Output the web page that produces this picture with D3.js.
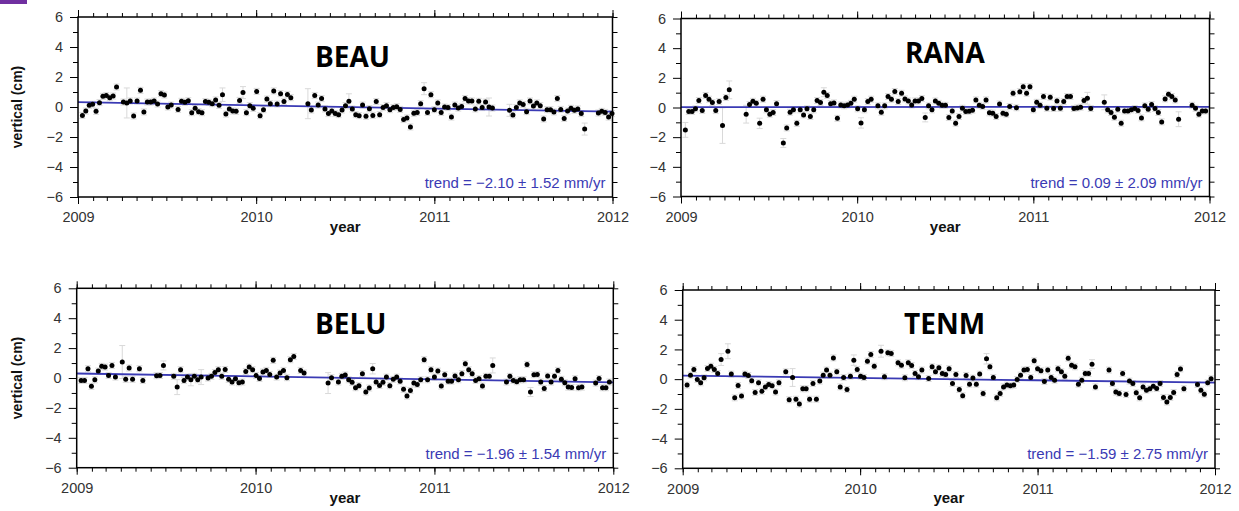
<!DOCTYPE html>
<html>
<head>
<meta charset="utf-8">
<script src="https://cdn.jsdelivr.net/npm/d3@7"></script>
<style>
  body { margin: 0; background: #fff; }
  svg { display: block; font-family: "Liberation Sans", Arial, sans-serif; }
</style>
</head>
<body>
<svg id="chart" width="1239" height="511"></svg>
<script>
// weekly GPS solutions, first week = 2009-01-10, null = no solution
const weekStart = new Date(2009, 0, 10);
const yearTicks = [2009, 2010, 2011, 2012];
const yTicks = [-6, -4, -2, 0, 2, 4, 6];

const stations = ['BEAU', 'RANA', 'BELU', 'TENM'];
const trendRates = [-2.10, 0.09, -1.96, -1.59];   // mm/yr
const trendErrors = [1.52, 2.09, 1.54, 2.75];     // mm/yr
const trendStart = [0.32, 0.02, 0.30, 0.24];      // cm at 2009.0

const beau = [
  -0.56, -0.27, 0.11, 0.18, -0.29, 0.29, 0.71, 0.76, 0.62, 0.73,
  1.33, null, 0.33, 0.27, 0.40, -0.60, 0.40, 1.11, -0.33, 0.33,
  0.33, 0.40, 0.20, 0.89, 0.80, 0.00, 0.13, null, -0.16, 0.38,
  0.31, 0.42, -0.38, -0.09, -0.31, -0.38, 0.36, 0.31, 0.22, 0.47,
  0.11, 0.82, -0.47, -0.13, -0.27, -0.29, 0.44, 0.96, -0.38, 0.09,
  -0.09, 1.04, -0.58, -0.18, 0.53, 0.22, 1.07, 0.20, 0.89, 0.36,
  0.84, 0.62, null, null, null, null, 0.22, -0.20, 0.76, 0.13,
  0.56, -0.13, -0.44, -0.27, -0.44, -0.51, -0.20, 0.09, 0.38, -0.13,
  -0.51, -0.58, 0.13, -0.62, -0.11, -0.56, 0.36, -0.51, -0.04, 0.09,
  -0.18, -0.04, 0.02, -0.16, -0.84, -0.73, -1.33, -0.42, -0.36, 0.22,
  1.22, -0.36, 0.82, -0.18, 0.27, -0.36, 0.00, -0.04, -0.67, 0.13,
  -0.07, 0.04, 0.56, 0.40, 0.40, -0.13, 0.38, -0.04, 0.33, 0.00,
  -0.07, null, null, null, null, -0.22, -0.53, -0.04, 0.27, 0.16,
  -0.31, 0.40, 0.07, 0.27, 0.09, -0.80, -0.18, -0.18, -0.33, 0.56,
  -0.16, -0.76, -0.27, -0.09, -0.22, -0.13, -0.44, -1.47, null, null,
  null, -0.40, -0.29, -0.36, -0.67, -0.44
];
const rana = [
  -1.51, -0.27, -0.27, -0.09, 0.47, -0.20, 0.81, 0.56, 0.33, -0.21,
  0.40, -1.22, 0.67, 1.19, null, null, null, null, -0.45, 0.20,
  0.42, 0.28, -1.07, 0.56, -0.16, -0.45, -0.34, 0.26, null, -2.39,
  -1.38, -0.32, -0.16, -1.07, -0.16, -0.50, -0.09, -0.61, -0.16, 0.47,
  0.33, 1.03, 0.81, 0.26, 0.31, -0.73, 0.17, 0.11, 0.17, 0.28,
  0.56, -0.09, -1.04, -0.16, 0.40, 0.56, null, 0.11, -0.32, 0.11,
  0.74, 0.56, 1.08, 0.40, 0.96, 0.58, 0.44, 0.17, 0.44, 0.44,
  0.60, -0.67, 0.11, -0.16, 0.44, 0.28, 0.15, 0.15, -0.68, -0.23,
  -1.06, -0.61, -0.05, -0.27, -0.25, -0.18, 0.51, 0.15, 0.06, 0.51,
  -0.36, -0.38, -0.61, 0.24, -0.38, -0.45, 0.06, 0.96, -0.02, 1.07,
  1.40, 0.96, 1.40, -0.16, 0.35, 0.15, 0.74, -0.05, 0.69, -0.07,
  0.44, -0.05, 0.40, 0.74, 0.74, -0.07, -0.03, 0.02, 0.47, 0.62,
  -0.07, null, null, null, 0.35, -0.16, -0.34, -0.66, -0.12, -1.06,
  -0.23, -0.23, -0.16, -0.07, -0.20, -0.70, 0.11, -0.12, 0.20, -0.07,
  -0.34, -0.97, 0.58, 0.89, 0.74, 0.51, -0.79, null, null, null,
  0.15, -0.05, -0.45, -0.23, -0.23, null
];
const belu = [
  -0.16, -0.16, 0.62, -0.56, -0.12, 0.46, 0.78, 0.73, 0.17, 0.84,
  0.06, null, 1.07, -0.09, 0.67, -0.09, null, 0.62, -0.16, null,
  null, null, 0.15, 0.17, 0.84, null, null, 0.11, -0.61, 0.55,
  -0.16, 0.06, -0.12, 0.11, -0.12, 0.06, null, 0.00, 0.11, 0.37,
  0.55, 0.11, 0.57, -0.09, -0.27, -0.05, -0.32, -0.27, 0.44, 0.73,
  0.55, 0.17, -0.03, 0.40, 0.51, 0.24, 1.18, 0.06, 0.33, 0.51,
  0.02, 1.22, 1.44, null, 0.51, 0.33, null, null, null, null,
  null, null, -0.34, 0.02, null, -0.27, 0.11, 0.20, -0.12, -0.29,
  -0.65, -0.52, 0.29, -0.94, -0.67, 0.62, -0.27, -0.50, -0.29, 0.06,
  -0.52, -0.09, 0.06, -0.21, -0.76, -1.21, -0.83, -0.34, -0.43, -0.12,
  1.22, -0.12, 0.55, 0.06, 0.46, -0.54, 0.22, -0.21, -0.21, 0.13,
  -0.12, 0.29, 0.95, 0.55, 0.29, -0.16, -0.05, -0.54, 0.11, 0.11,
  0.84, null, null, null, -0.27, 0.11, -0.16, -0.25, -0.12, -0.12,
  0.91, -0.94, 0.22, 0.24, -0.27, -0.70, 0.13, -0.27, 0.11, 0.51,
  -0.09, -0.32, -0.61, -0.63, -0.05, -0.65, -0.61, null, null, null,
  -0.34, -0.03, -0.65, -0.65, -0.27, null
];
const tenm = [
  -0.40, 0.27, 0.65, -0.02, -0.25, 0.09, 0.72, 0.87, 0.65, 0.38,
  1.32, null, 1.88, 0.34, -1.26, -0.43, -1.14, 0.34, 0.25, -0.11,
  -0.90, -0.25, -0.81, -0.52, -0.36, -0.45, -0.87, -0.25, null, 0.49,
  -1.39, 0.11, -1.35, -1.68, -0.65, -0.65, -1.35, -0.29, -1.35, -0.13,
  0.27, 0.61, 0.27, 1.43, 0.49, -0.52, 0.11, -0.70, 0.20, 1.28,
  0.65, 0.20, 0.11, 1.21, 1.66, 0.87, null, 1.88, 0.16, 1.77,
  1.73, null, 1.10, 0.94, 0.09, 1.10, 0.92, 0.38, 0.16, 0.61,
  null, 0.04, 0.83, 0.50, 0.76, 0.38, 0.31, 0.70, -0.29, 0.31,
  -0.70, -1.12, 0.25, -0.34, 0.07, -0.34, 0.34, -0.96, 1.37, 0.83,
  0.11, -1.26, -0.96, -0.52, -0.40, -0.45, -0.40, -0.02, 0.27, 0.61,
  0.65, 0.11, 1.23, 0.70, 0.56, -0.16, 0.61, 0.11, -0.07, 0.70,
  0.49, 0.20, 1.41, 0.94, 0.83, -0.34, -0.07, 0.38, 0.38, 1.01,
  -0.52, null, null, null, 0.61, -0.29, -0.87, -0.96, 0.38, -1.03,
  -0.13, -0.29, -0.92, -1.26, -0.52, -0.74, -0.65, -0.47, -0.63, -0.29,
  -1.23, -1.54, -1.23, -0.90, 0.31, 0.69, -0.65, null, null, null,
  -0.36, -0.74, -1.01, -0.25, 0.02, null
];

// larger error bars [week, sigma cm]; all other weeks use the default sigma
const defaultSigma = 0.2;
const beauErr = [[13, 1.0], [41, 0.45], [47, 0.4], [66, 1.0], [78, 0.5], [100, 0.4], [119, 0.6], [125, 0.4], [147, 0.4]];
const ranaErr = [[0, 0.5], [11, 1.2], [13, 0.6], [18, 0.6], [22, 0.35], [29, 0.3], [41, 0.3], [52, 0.35], [71, 0.3], [119, 0.4], [124, 0.5], [146, 0.5]];
const beluErr = [[12, 1.1], [24, 0.3], [28, 0.5], [32, 0.4], [35, 0.5], [72, 0.7], [85, 0.35], [120, 0.5], [131, 0.3]];
const tenmErr = [[10, 0.4], [12, 0.5], [31, 0.6], [49, 0.35], [57, 0.4], [88, 0.35], [119, 0.3]];

const series = [beau, rana, belu, tenm];
const errors = [beauErr, ranaErr, beluErr, tenmErr];

// frame boxes of the four panels
const boxes = [
  { left: 78, right: 612.5, top: 17, bottom: 197, nameX: 315, nameY: 67, ylab: true },
  { left: 681, right: 1209.5, top: 18.5, bottom: 196.5, nameX: 905, nameY: 63, ylab: false },
  { left: 76.7, right: 613.3, top: 288.3, bottom: 467.7, nameX: 315, nameY: 334, ylab: true },
  { left: 682.7, right: 1215, top: 290, bottom: 468.3, nameX: 904, nameY: 334, ylab: false }
];

const svg = d3.select('#chart');

svg.append('rect')
  .attr('x', 0).attr('y', 0)
  .attr('width', 27).attr('height', 4)
  .attr('fill', '#7030a0');

const blue = '#3a3ab4';
const fmt = d3.format('.2f');

boxes.forEach((b, k) => {
  const w = b.right - b.left;
  const h = b.bottom - b.top;
  const g = svg.append('g').attr('transform', `translate(${b.left},${b.top})`);

  const x = d3.scaleTime()
    .domain([new Date(2009, 0, 1), new Date(2012, 0, 1)])
    .range([0, w]);
  const y = d3.scaleLinear().domain([-6, 6]).range([h, 0]);

  const errMap = new Map(errors[k]);
  const pts = series[k]
    .map((v, i) => ({ date: d3.timeDay.offset(weekStart, 7 * i), v: v, s: errMap.get(i) || defaultSigma }))
    .filter(d => d.v !== null);

  const years = yearTicks.map(yr => new Date(yr, 0, 1));
  const months = d3.timeMonth.range(new Date(2009, 0, 1), new Date(2012, 0, 2));

  // minor + major ticks, bottom and top
  const minorB = g.append('g').attr('transform', `translate(0,${h})`)
    .call(d3.axisBottom(x).tickValues(months).tickSize(4).tickFormat(''));
  const majorB = g.append('g').attr('transform', `translate(0,${h})`)
    .call(d3.axisBottom(x).tickValues(years).tickSize(7).tickPadding(8)
      .tickFormat(d3.timeFormat('%Y')));
  const minorT = g.append('g')
    .call(d3.axisTop(x).tickValues(months).tickSize(4).tickFormat(''));
  const majorT = g.append('g')
    .call(d3.axisTop(x).tickValues(years).tickSize(7).tickFormat(''));

  // left: odd minor, even major with labels; right: every cm
  const minorL = g.append('g')
    .call(d3.axisLeft(y).tickValues([-5, -3, -1, 1, 3, 5]).tickSize(5).tickFormat(''));
  const majorL = g.append('g')
    .call(d3.axisLeft(y).tickValues(yTicks).tickSize(8).tickPadding(7));
  const right = g.append('g').attr('transform', `translate(${w},0)`)
    .call(d3.axisRight(y).tickValues(d3.range(-6, 7)).tickSize(5).tickFormat(''));

  [minorB, majorB, minorT, majorT, minorL, majorL, right].forEach(a => {
    a.select('.domain').remove();
    a.selectAll('line').attr('stroke', '#000').attr('stroke-width', 1);
    a.selectAll('text').attr('fill', '#333').style('font-size', '14.5px')
      .style('font-family', '"Liberation Sans", Arial, sans-serif');
  });

  // error bars
  const eb = g.append('g').attr('stroke', '#d9d9d9').attr('stroke-width', 1);
  pts.forEach(d => {
    const cx = x(d.date);
    eb.append('line').attr('x1', cx).attr('x2', cx)
      .attr('y1', y(d.v - d.s)).attr('y2', y(d.v + d.s));
    eb.append('line').attr('x1', cx - 3).attr('x2', cx + 3)
      .attr('y1', y(d.v - d.s)).attr('y2', y(d.v - d.s));
    eb.append('line').attr('x1', cx - 3).attr('x2', cx + 3)
      .attr('y1', y(d.v + d.s)).attr('y2', y(d.v + d.s));
  });

  // trend line
  const t0 = trendStart[k];
  const t1 = t0 + trendRates[k] / 10 * 3;
  g.append('path')
    .datum([[years[0], t0], [years[3], t1]])
    .attr('fill', 'none')
    .attr('stroke', blue)
    .attr('stroke-width', 1.8)
    .attr('d', d3.line().x(d => x(d[0])).y(d => y(d[1])));

  // points
  g.selectAll('circle.pt')
    .data(pts)
    .enter()
    .append('circle')
    .attr('class', 'pt')
    .attr('cx', d => x(d.date))
    .attr('cy', d => y(d.v))
    .attr('r', 2.5)
    .attr('fill', '#000');

  // frame
  g.append('rect')
    .attr('width', w).attr('height', h)
    .attr('fill', 'none')
    .attr('stroke', '#000')
    .attr('stroke-width', 1.5);

  // trend text
  g.append('text')
    .attr('x', w - 7)
    .attr('y', h - 9)
    .attr('text-anchor', 'end')
    .attr('fill', blue)
    .style('font-size', '15px')
    .text(`trend = ${fmt(trendRates[k])} \u00b1 ${fmt(trendErrors[k])} mm/yr`);

  // station name
  svg.append('text')
    .attr('x', b.nameX)
    .attr('y', b.nameY)
    .style('font-family', '"Open Sans", "Noto Sans", sans-serif')
    .style('font-weight', 'bold')
    .style('font-size', '28px')
    .attr('fill', '#000')
    .text(stations[k]);

  /* x Label */
  g.append('text')
    .text('year')
    .attr('x', w / 2)
    .attr('y', h + 35)
    .attr('text-anchor', 'middle')
    .style('font-weight', 'bold')
    .style('font-size', '15px')
    .attr('fill', '#111');

  /* y Label */
  if (b.ylab) {
    svg.append('text')
      .text('vertical (cm)')
      .attr('transform', `translate(22,${b.top + h / 2}) rotate(-90)`)
      .attr('text-anchor', 'middle')
      .style('font-weight', 'bold')
      .style('font-size', '14px')
      .attr('fill', '#111');
  }
});
</script>
</body>
</html>
